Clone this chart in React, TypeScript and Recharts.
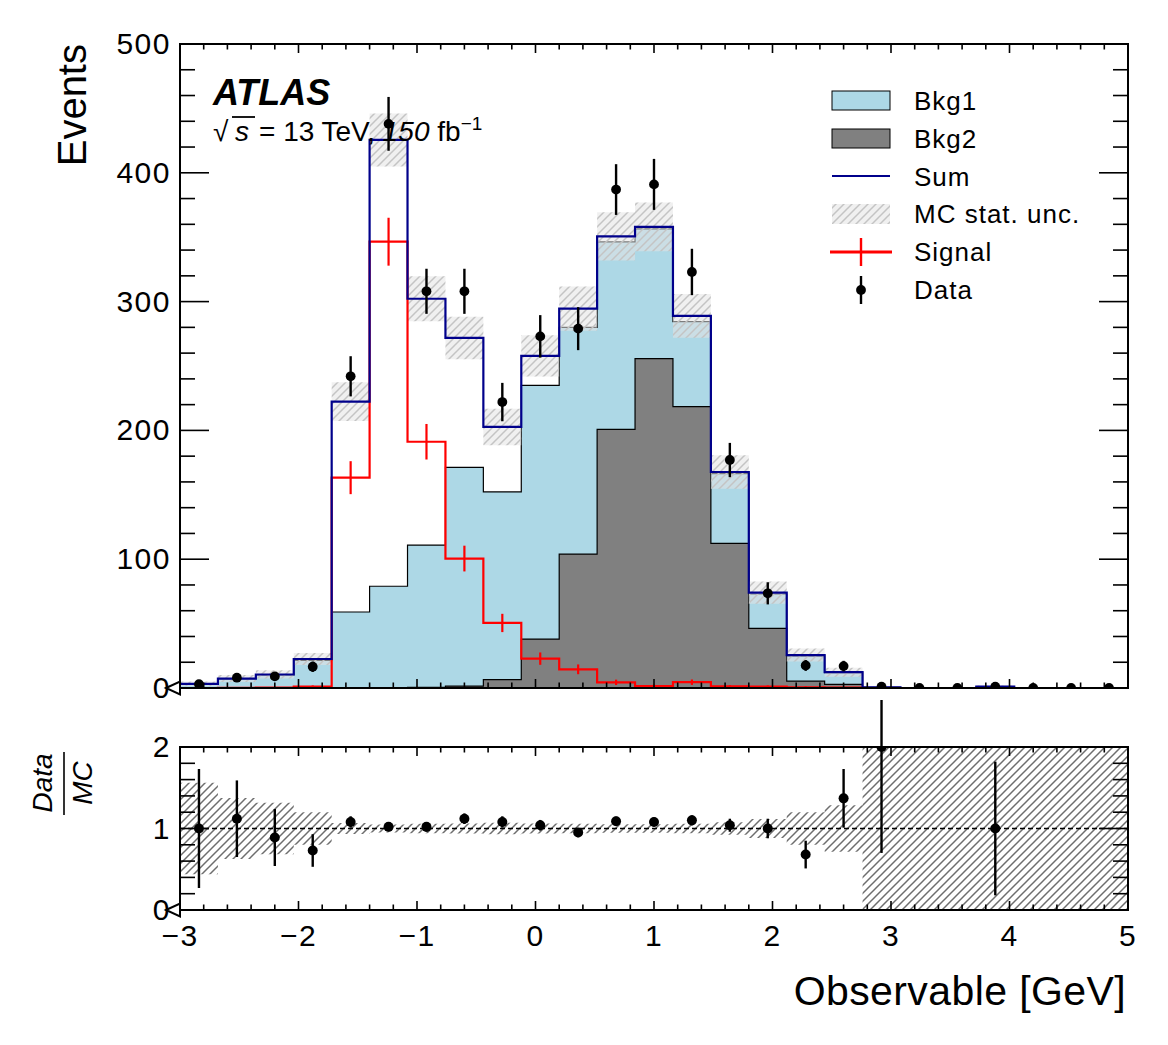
import { ComposedChart, Area, Line, Scatter, ErrorBar, XAxis, YAxis, ReferenceLine } from 'recharts';

const FONT = '"Liberation Sans", Arial, Helvetica, sans-serif';

// 25 bins between -3 and 5
const binEdges = [-3, -2.68, -2.36, -2.04, -1.72, -1.4, -1.08, -0.76, -0.44, -0.12, 0.2, 0.52, 0.84,
    1.16, 1.48, 1.8, 2.12, 2.44, 2.76, 3.08, 3.4, 3.72, 4.04, 4.36, 4.68, 5];

const bkg1 = [3.2, 7.2, 10.2, 21.5, 59, 79, 110.5, 169.8, 145.7, 197, 176, 145.5, 100.8, 66, 54.2, 26.7,
    19.6, 9.2, 0.5, 0, 0, 1, 0, 0, 0];
const bkg2 = [0, 0, 0, 0, 0, 0, 0.5, 1.5, 6.5, 38, 104, 200.8, 255.7, 218.4, 112.3, 46.3,
    5.4, 2.8, 0, 0, 0, 0, 0, 0, 0];
const signal = [0, 0.1, 0.3, 1, 163.3, 346.5, 191.2, 100.5, 50.5, 22.8, 14.5, 4.4, 1.5, 4.5, 1.2, 1,
    0.6, 0.3, 0, 0, 0, 0, 0, 0, 0];
const signalErr = [0, 0.3, 0.5, 1, 12.8, 18.6, 13.8, 10, 7.1, 4.8, 3.8, 2.1, 1.2, 2.1, 1.1, 1,
    0.8, 0.5, 0, 0, 0, 0, 0, 0, 0];
const mcErr = [1.8, 2.7, 3.2, 4.7, 15, 20.6, 17.4, 16.5, 14.2, 16, 17.2, 18.7, 18.9, 17, 13, 8.6,
    5, 3.5, 0.7, 0, 0, 1, 0, 0, 0];
const data = [3, 8, 9, 16.5, 242, 438, 308, 308, 222, 273, 279, 387, 391, 323, 177, 73.5,
    17.5, 17, 1, 0, 0, 1, 0, 0, 0];
const dataErr = [1.7, 2.8, 3, 4, 15.6, 20.9, 17.5, 17.5, 14.9, 16.5, 16.7, 19.7, 19.8, 18, 13.3, 8.6,
    4.2, 4.1, 1, 0, 0, 1, 0, 0, 0];

// ratio panel
const ratio = [1.0, 1.12, 0.89, 0.73, 1.08, 1.02, 1.02, 1.12, 1.08, 1.04, 0.95, 1.09, 1.08, 1.1, 1.04, 1.0,
    0.68, 1.37, 2.0, null, null, 1.0, null, null, null];
const ratioErr = [0.73, 0.47, 0.35, 0.2, 0.07, 0.05, 0.06, 0.065, 0.07, 0.065, 0.057, 0.056, 0.055, 0.062, 0.08, 0.12,
    0.17, 0.36, 1.3, 0, 0, 0.82, 0, 0, 0];
const ratioBand = [0.56, 0.375, 0.315, 0.2, 0.068, 0.048, 0.058, 0.061, 0.07, 0.062, 0.058, 0.053, 0.053, 0.059, 0.078, 0.117,
    0.2, 0.285, 1, 1, 1, 1, 1, 1, 1];

const xMajorTicks = [-3, -2, -1, 0, 1, 2, 3, 4, 5];
const mainYMajorTicks = [0, 100, 200, 300, 400, 500];
const ratioYMajorTicks = [0, 1, 2];

const stepTicks = (lo: number, hi: number, step: number) => {
    const out: number[] = [];
    const n = Math.round((hi - lo) / step);
    for (let i = 0; i <= n; i++) out.push(Math.round((lo + i * step) * 1000) / 1000);
    return out;
};
const xTicks = stepTicks(-3, 5, 0.2);
const mainYTicks = stepTicks(0, 500, 20);
const ratioYTicks = stepTicks(0, 2, 0.2);

const nBins = bkg1.length;
const stepRows = binEdges.map((x, i) => {
    const j = Math.min(i, nBins - 1);
    const sum = bkg1[j] + bkg2[j] + signal[j];
    return {
        x,
        stack: bkg1[j] + bkg2[j],
        bkg2: bkg2[j],
        signal: i < nBins ? signal[j] : 0,
        sum,
        band: [sum - mcErr[j], sum + mcErr[j]],
        rband: [1 - ratioBand[j], 1 + ratioBand[j]],
    };
});
const centers = binEdges.slice(0, -1).map((e, i) => (e + binEdges[i + 1]) / 2);
const dataPoints = centers.map((x, i) => ({ x, y: data[i], err: dataErr[i] }));
const signalPoints = centers.map((x, i) => ({ x, y: signal[i], err: signalErr[i] })).filter(p => p.err > 0);
const ratioPoints = centers.map((x, i) => ({ x, y: ratio[i], err: ratioErr[i] })).filter(p => p.y !== null);

const fmt = (v: number) => (v < 0 ? '\u2212' + Math.abs(v) : String(v));
const isMajor = (v: number, majors: number[]) => majors.some(m => Math.abs(m - v) < 1e-6);

// plot box: left 180, right 1128; main 44..688, ratio 747..910
const PLOT_W = 948;
const X_LENS = [9, 5.5];
const Y_LENS = [29, 15];
const labelStyle = { fontFamily: FONT, fontSize: 30, letterSpacing: 1.5, fill: '#000' };

// bottom axis draws its ticks on the bottom and the top edge of the box
const xTick = (plotH: number, labelled: boolean) => (props: any) => {
    const { x, y, payload } = props;
    const v = payload.value;
    const maj = isMajor(v, xMajorTicks);
    const len = maj ? X_LENS[0] : X_LENS[1];
    return (
        <g>
            <line x1={x} y1={y} x2={x} y2={y - len} stroke="#000" strokeWidth={1.6} />
            <line x1={x} y1={y - plotH} x2={x} y2={y - plotH + len} stroke="#000" strokeWidth={1.6} />
            {labelled && maj && <text x={x} y={y + 36} textAnchor="middle" {...labelStyle}>{fmt(v)}</text>}
        </g>
    );
};

// left axis draws its ticks on the left and the right edge of the box
const yTick = (majors: number[]) => (props: any) => {
    const { x, y, payload } = props;
    const v = payload.value;
    const maj = isMajor(v, majors);
    const len = maj ? Y_LENS[0] : Y_LENS[1];
    return (
        <g>
            <line x1={x} y1={y} x2={x + len} y2={y} stroke="#000" strokeWidth={1.6} />
            <line x1={x + PLOT_W} y1={y} x2={x + PLOT_W - len} y2={y} stroke="#000" strokeWidth={1.6} />
            {maj && <text x={x - 9} y={y + 10} textAnchor="end" {...labelStyle}>{fmt(v)}</text>}
        </g>
    );
};

const axes = (yMajors: number[], yTicks: number[], yDomain: number[], plotH: number, xLabels: boolean) => [
    <XAxis key="xb" dataKey="x" type="number" domain={[-3, 5]} allowDataOverflow ticks={xTicks} interval={0}
        height={1} tickSize={0} tickMargin={0} tickLine={false} axisLine={false}
        tick={xTick(plotH, xLabels)} />,
    <YAxis key="yl" type="number" domain={yDomain} allowDataOverflow ticks={yTicks} interval={0}
        width={1} tickSize={0} tickMargin={0} tickLine={false} axisLine={false}
        tick={yTick(yMajors)} />,
];

const hatchPath = 'M-2,2 L2,-2 M0,8 L8,0 M6,10 L10,6';

const dot = (r: number) => (p: any) => <circle cx={p.cx} cy={p.cy} r={r} fill="#000" />;
const noShape = () => <g />;

const App = () => (
    <div style={{ position: 'absolute', left: 0, top: 0, width: 1168, height: 1045, background: '#fff' }}>
        <div style={{ position: 'absolute', left: 0, top: 0 }}>
            <ComposedChart width={1168} height={720} data={stepRows} margin={{ top: 44, right: 40, bottom: 31, left: 179 }}>
                <defs>
                    <pattern id="hatchMain" patternUnits="userSpaceOnUse" width="8" height="8">
                        <rect width="8" height="8" fill="#e3e3e3" fillOpacity={0.55} />
                        <path d={hatchPath} stroke="#c4c4c4" strokeWidth={1.5} />
                    </pattern>
                </defs>
                {axes(mainYMajorTicks, mainYTicks, [0, 500], 644, false)}
                <Area type="stepAfter" dataKey="stack" fill="#add8e6" fillOpacity={1} stroke="#000" strokeWidth={1.2}
                    isAnimationActive={false} dot={false} activeDot={false} />
                <Area type="stepAfter" dataKey="bkg2" fill="#808080" fillOpacity={1} stroke="#000" strokeWidth={1.2}
                    isAnimationActive={false} dot={false} activeDot={false} />
                <Line type="stepAfter" dataKey="signal" stroke="#ff0000" strokeWidth={2.2} dot={false} activeDot={false}
                    isAnimationActive={false} />
                <Scatter data={signalPoints} dataKey="y" shape={noShape} isAnimationActive={false}>
                    <ErrorBar dataKey="err" direction="y" width={0} stroke="#ff0000" strokeWidth={2.2} isAnimationActive={false} />
                </Scatter>
                <Line type="stepAfter" dataKey="sum" stroke="#00008b" strokeWidth={2.2} dot={false} activeDot={false}
                    isAnimationActive={false} />
                <Area type="stepAfter" dataKey="band" fill="url(#hatchMain)" fillOpacity={1} stroke="none"
                    isAnimationActive={false} dot={false} activeDot={false} />
                <Scatter data={dataPoints} dataKey="y" shape={dot(4.9)} isAnimationActive={false}>
                    <ErrorBar dataKey="err" direction="y" width={0} stroke="#000" strokeWidth={2.4} isAnimationActive={false} />
                </Scatter>
            </ComposedChart>
        </div>
        <div style={{ position: 'absolute', left: 0, top: 700 }}>
            <ComposedChart width={1168} height={345} data={stepRows} margin={{ top: 47, right: 40, bottom: 134, left: 179 }}>
                <defs>
                    <pattern id="hatchRatio" patternUnits="userSpaceOnUse" width="8" height="8">
                        <path d={hatchPath} stroke="#6e6e6e" strokeWidth={1.5} />
                    </pattern>
                </defs>
                {axes(ratioYMajorTicks, ratioYTicks, [0, 2], 163, true)}
                <Area type="stepAfter" dataKey="rband" fill="url(#hatchRatio)" fillOpacity={1} stroke="none"
                    isAnimationActive={false} dot={false} activeDot={false} />
                <ReferenceLine y={1} stroke="#000" strokeWidth={1.6} strokeDasharray="5 3" />
                <Scatter data={ratioPoints} dataKey="y" shape={dot(5)} isAnimationActive={false}>
                    <ErrorBar dataKey="err" direction="y" width={0} stroke="#000" strokeWidth={2.4} isAnimationActive={false} />
                </Scatter>
            </ComposedChart>
        </div>
        <svg width={1168} height={1045} style={{ position: 'absolute', left: 0, top: 0, pointerEvents: 'none' }}
            fontFamily={FONT} fill="#000">
            <defs>
                <pattern id="hatchLegend" patternUnits="userSpaceOnUse" width="8" height="8">
                    <rect width="8" height="8" fill="#e3e3e3" fillOpacity={0.55} />
                    <path d={hatchPath} stroke="#c4c4c4" strokeWidth={1.5} />
                </pattern>
            </defs>
            <rect x={180} y={44} width={948} height={644} fill="none" stroke="#000" strokeWidth={2} />
            <rect x={180} y={747} width={948} height={163} fill="none" stroke="#000" strokeWidth={2} />

            <text transform="translate(86,44) rotate(-90)" textAnchor="end" fontSize={40}>Events</text>
            <text x={1126} y={1005} textAnchor="end" fontSize={41} letterSpacing={0.4}>Observable [GeV]</text>
            <text x={213} y={105} fontSize={36} fontWeight="bold" fontStyle="italic">ATLAS</text>
            <text x={213} y={141} fontSize={28}>{'\u221A'}</text>
            <line x1={232} y1={117} x2={255} y2={117} stroke="#000" strokeWidth={1.8} />
            <text x={235} y={141} fontSize={28} fontStyle="italic">s</text>
            <text x={259} y={141} fontSize={28}>
                = 13 TeV, <tspan fontStyle="italic">150</tspan> fb<tspan dy={-11} fontSize={19}>{'\u22121'}</tspan>
            </text>

            <rect x={832} y={91} width={58} height={19} fill="#add8e6" stroke="#000" strokeWidth={1} />
            <rect x={832} y={129} width={58} height={19} fill="#808080" stroke="#000" strokeWidth={1} />
            <line x1={832} y1={176} x2={890} y2={176} stroke="#00008b" strokeWidth={2.2} />
            <rect x={832} y={204} width={58} height={20} fill="url(#hatchLegend)" />
            <line x1={830} y1={252} x2={892} y2={252} stroke="#ff0000" strokeWidth={3} />
            <line x1={861} y1={238} x2={861} y2={266} stroke="#ff0000" strokeWidth={2.4} />
            <line x1={861} y1={276} x2={861} y2={304} stroke="#000" strokeWidth={2.4} />
            <circle cx={861} cy={290} r={4.9} fill="#000" />
            <g fontSize={26} letterSpacing={1}>
                <text x={914} y={110}>Bkg1</text>
                <text x={914} y={148}>Bkg2</text>
                <text x={914} y={186}>Sum</text>
                <text x={914} y={223}>MC stat. unc.</text>
                <text x={914} y={261}>Signal</text>
                <text x={914} y={299}>Data</text>
            </g>

            <text transform="translate(52,783) rotate(-90)" textAnchor="middle" fontSize={28} fontStyle="italic">Data</text>
            <text transform="translate(92,783) rotate(-90)" textAnchor="middle" fontSize={28} fontStyle="italic">MC</text>
            <line x1={64} y1={752} x2={64} y2={815} stroke="#000" strokeWidth={1.6} />

            <polygon points="166,688 180,681.5 180,694.5" fill="none" stroke="#000" strokeWidth={2} />
            <polygon points="166,910 180,903.5 180,916.5" fill="none" stroke="#000" strokeWidth={2} />
        </svg>
    </div>
);

export default App;
